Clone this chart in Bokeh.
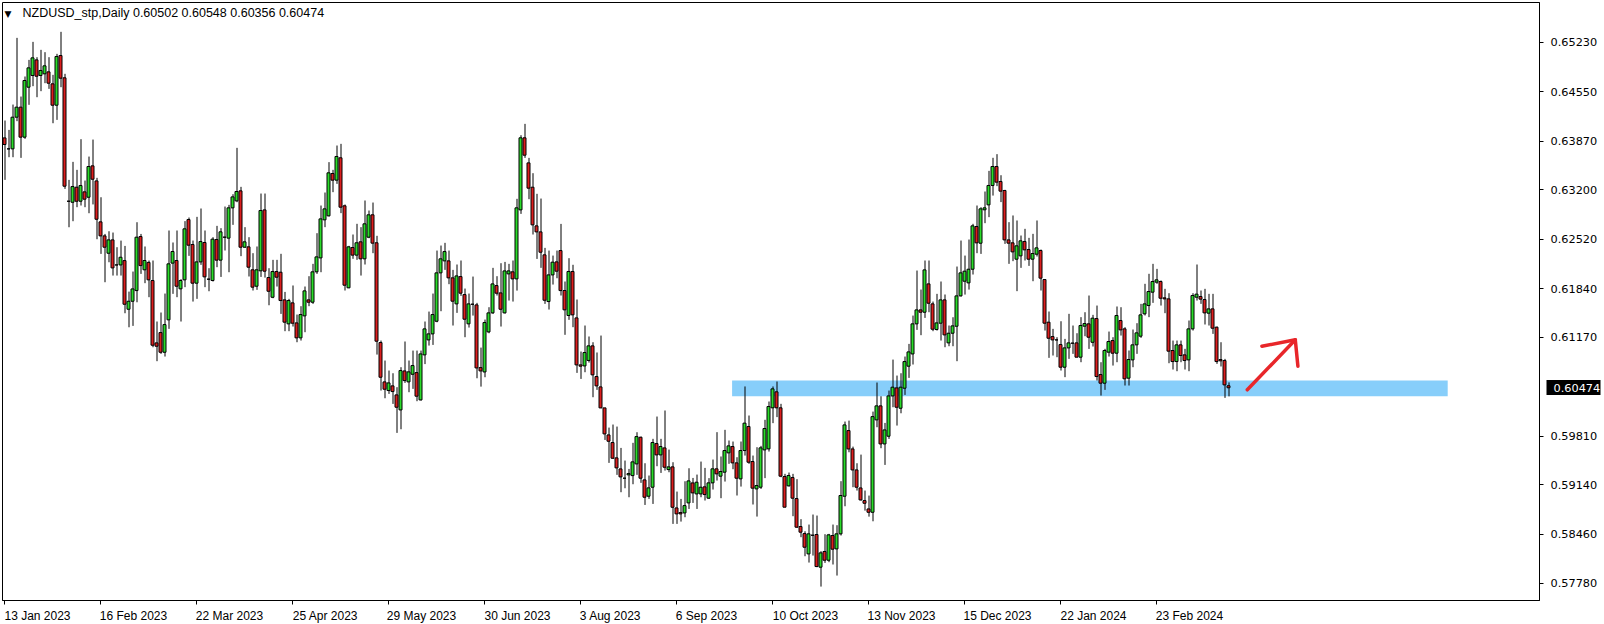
from bokeh.plotting import figure
from bokeh.models import (LinearAxis, FixedTicker, Range1d, Label,
                          ColumnDataSource, PrintfTickFormatter)
from bokeh.embed import file_html
from bokeh.resources import INLINE

# ---------------- data ----------------
symbol = "NZDUSD_stp"
timeframe = "Daily"

date_labels = ["13 Jan 2023", "16 Feb 2023", "22 Mar 2023", "25 Apr 2023",
               "29 May 2023", "30 Jun 2023", "3 Aug 2023", "6 Sep 2023",
               "10 Oct 2023", "13 Nov 2023", "15 Dec 2023", "22 Jan 2024",
               "23 Feb 2024"]
date_label_bars = [0, 24, 48, 72, 96, 120, 144, 168, 192, 216, 240, 264, 288]

price_ticks = [0.65230, 0.64550, 0.63870, 0.63200, 0.62520, 0.61840,
               0.61170, 0.59810, 0.59140, 0.58460, 0.57780]

opens = [
0.63914,0.63763,0.63763,0.64199,0.64337,0.63924,0.64612,0.64773,0.64988,0.64773,
0.64796,0.64823,0.64658,0.64364,0.65048,0.64741,0.63042,0.63028,0.63235,0.63042,
0.63171,0.63097,0.63529,0.63322,0.62758,0.62565,0.62326,0.62510,0.62165,0.62165,
0.62225,0.61555,0.61665,0.61812,0.62556,0.62098,0.62200,0.61951,0.61092,0.61234,
0.60963,0.61409,0.62190,0.62226,0.61836,0.61960,0.62790,0.62446,0.61914,0.62207,
0.62474,0.61969,0.61951,0.62515,0.62231,0.62547,0.62534,0.62951,0.63047,0.63185,
0.62409,0.62414,0.62098,0.61872,0.62084,0.62923,0.61992,0.61720,0.62074,0.62065,
0.61684,0.61354,0.61643,0.61367,0.61161,0.61464,0.61684,0.61652,0.62070,0.62262,
0.62786,0.62841,0.63424,0.63332,0.63640,0.62979,0.61850,0.62405,0.62300,0.62483,
0.62249,0.62547,0.62855,0.62470,0.61097,0.60555,0.60436,0.60500,0.60376,0.60169,
0.60706,0.60555,0.60660,0.60683,0.60307,0.60927,0.61133,0.61216,0.61390,0.62056,
0.62221,0.62221,0.61987,0.61629,0.62005,0.61757,0.61354,0.61624,0.61615,0.60752,
0.60692,0.61243,0.61505,0.61881,0.61780,0.61505,0.62042,0.62070,0.61973,0.62923,
0.63915,0.63570,0.63235,0.62703,0.62620,0.62304,0.61661,0.62028,0.62207,0.62363,
0.61813,0.61469,0.62075,0.61436,0.60789,0.60775,0.60850,0.61051,0.60629,0.60486,
0.60197,0.59825,0.59720,0.59509,0.59357,0.59229,0.59275,0.59265,0.59426,0.59793,
0.59206,0.58981,0.59105,0.59706,0.59550,0.59646,0.59348,0.59385,0.58820,0.58756,
0.58751,0.58889,0.59164,0.59013,0.59013,0.59110,0.58954,0.59165,0.59358,0.59257,
0.59312,0.59578,0.59665,0.59440,0.59220,0.59610,0.59941,0.59459,0.59082,0.59105,
0.59619,0.59633,0.60198,0.60418,0.60198,0.59252,0.59124,0.59238,0.58949,0.58564,
0.58467,0.58187,0.58444,0.58454,0.58004,0.58220,0.58100,0.58440,0.58256,0.58463,
0.58981,0.59885,0.59632,0.59343,0.59095,0.58921,0.58806,0.58760,0.60032,0.60225,
0.59701,0.59807,0.60362,0.60472,0.60192,0.60468,0.60771,0.60940,0.61354,0.61546,
0.61514,0.61904,0.61629,0.61276,0.61363,0.61684,0.61092,0.61225,0.61321,0.61739,
0.61941,0.61918,0.62106,0.62694,0.62464,0.62924,0.62992,0.63259,0.63520,0.63314,
0.63190,0.62510,0.62469,0.62244,0.62290,0.62488,0.62377,0.62244,0.62313,0.62364,
0.61964,0.61377,0.61179,0.61133,0.61069,0.60757,0.61023,0.61088,0.61092,0.60895,
0.61322,0.61354,0.61100,0.61427,0.60656,0.60537,0.60964,0.61124,0.60950,0.61400,
0.61285,0.60606,0.60858,0.61065,0.61184,0.61492,0.61606,0.61790,0.61928,0.61937,
0.61712,0.61698,0.60987,0.60835,0.61065,0.60927,0.60858,0.61285,0.61721,0.61730,
0.61689,0.61501,0.61560,0.61308,0.60863,0.60849,0.60502]

highs = [
0.64153,0.64024,0.64373,0.65291,0.64483,0.64759,0.64988,0.65236,0.65025,0.65126,
0.65094,0.65025,0.64782,0.65071,0.65374,0.64796,0.63336,0.63584,0.63474,0.63896,
0.63327,0.63657,0.63891,0.63364,0.63097,0.62592,0.62629,0.62611,0.62409,0.62500,
0.62427,0.61798,0.62074,0.62753,0.62592,0.62419,0.62226,0.62226,0.61386,0.61510,
0.61771,0.62639,0.62474,0.62639,0.61969,0.62768,0.62818,0.62501,0.62827,0.62942,
0.62639,0.62120,0.62547,0.62703,0.62671,0.62969,0.62992,0.63139,0.63777,0.63240,
0.62685,0.62547,0.62327,0.62419,0.63148,0.63148,0.62120,0.62235,0.62235,0.62318,
0.61794,0.61698,0.61882,0.61482,0.61597,0.61868,0.62010,0.62180,0.62602,0.62983,
0.63162,0.63580,0.63474,0.63809,0.63832,0.62997,0.62428,0.62584,0.62731,0.62685,
0.63052,0.62914,0.63024,0.62566,0.61124,0.60849,0.60711,0.60674,0.60482,0.60757,
0.61111,0.60849,0.60986,0.60986,0.60986,0.61386,0.61523,0.61771,0.62363,0.62432,
0.62469,0.62363,0.62097,0.62171,0.62226,0.61840,0.61771,0.62005,0.61643,0.61027,
0.61413,0.61583,0.62125,0.62010,0.62189,0.62207,0.62180,0.62226,0.63075,0.63951,
0.64107,0.63639,0.63428,0.63144,0.63079,0.62400,0.62363,0.62294,0.62363,0.62730,
0.61937,0.62258,0.62167,0.61689,0.60973,0.61331,0.61180,0.61101,0.60960,0.61193,
0.60197,0.59926,0.59968,0.59940,0.59646,0.59472,0.59357,0.59716,0.59862,0.59802,
0.59435,0.59266,0.59771,0.60078,0.59771,0.60161,0.59623,0.59449,0.59045,0.58944,
0.59187,0.59366,0.59233,0.59279,0.59458,0.59371,0.59230,0.59486,0.59863,0.59528,
0.59895,0.59748,0.59734,0.59518,0.59734,0.60492,0.60092,0.59541,0.59656,0.59674,
0.60033,0.60285,0.60492,0.60560,0.60253,0.59289,0.59307,0.59289,0.59216,0.58665,
0.58499,0.58591,0.58729,0.58715,0.58224,0.58458,0.58463,0.58591,0.58582,0.59188,
0.60009,0.60022,0.59664,0.59435,0.59554,0.59059,0.58990,0.60146,0.60546,0.60357,
0.59990,0.60436,0.60862,0.60642,0.60674,0.60904,0.61078,0.61468,0.62088,0.61826,
0.62226,0.62226,0.61661,0.61767,0.61937,0.61758,0.61331,0.61445,0.62143,0.62501,
0.62294,0.62515,0.62731,0.62983,0.62960,0.63176,0.63460,0.63640,0.63690,0.63400,
0.63199,0.62754,0.62846,0.62777,0.62570,0.62662,0.62538,0.62593,0.62777,0.62377,
0.61964,0.61524,0.61285,0.61170,0.61390,0.61147,0.61492,0.61331,0.61225,0.61446,
0.61514,0.61744,0.61478,0.61606,0.60826,0.61010,0.61248,0.61170,0.61593,0.61583,
0.61308,0.60987,0.61276,0.61363,0.61629,0.61905,0.62043,0.62180,0.62111,0.61951,
0.61836,0.61776,0.61124,0.61124,0.61124,0.61010,0.61400,0.61776,0.62171,0.61813,
0.61836,0.61767,0.61767,0.61317,0.61101,0.60872,0.60548]

lows = [
0.63336,0.63648,0.63648,0.64144,0.63639,0.63901,0.64369,0.64626,0.64474,0.64557,
0.64667,0.64589,0.64116,0.64162,0.64612,0.63212,0.62684,0.62767,0.62960,0.62983,
0.62960,0.62877,0.62998,0.62519,0.62317,0.61927,0.62202,0.62019,0.62019,0.62019,
0.61500,0.61307,0.61326,0.61651,0.62042,0.61914,0.61721,0.61032,0.60840,0.60941,
0.60904,0.61285,0.61767,0.61721,0.61386,0.61859,0.62290,0.61661,0.61698,0.62166,
0.61859,0.61803,0.61937,0.62134,0.62000,0.62364,0.62065,0.62717,0.63029,0.62286,
0.62400,0.62006,0.61813,0.61822,0.62000,0.61991,0.61610,0.61707,0.61868,0.61491,
0.61253,0.61253,0.61317,0.61101,0.61124,0.61239,0.61597,0.61629,0.62042,0.62065,
0.62685,0.62832,0.63167,0.63281,0.62878,0.61813,0.61845,0.62249,0.62235,0.62019,
0.62171,0.62533,0.62327,0.60931,0.60436,0.60330,0.60390,0.60252,0.59853,0.59903,
0.60541,0.60413,0.60459,0.60289,0.60298,0.60800,0.61055,0.61064,0.61376,0.61528,
0.62097,0.61900,0.61331,0.61505,0.61739,0.61170,0.61303,0.61468,0.60605,0.60490,
0.60619,0.61225,0.61491,0.61744,0.61317,0.61496,0.61675,0.61661,0.61812,0.62868,
0.63639,0.63070,0.62584,0.62248,0.62125,0.61629,0.61551,0.61895,0.61982,0.61744,
0.61203,0.61409,0.61308,0.60679,0.60596,0.60688,0.60821,0.60344,0.60445,0.60193,
0.59756,0.59440,0.59495,0.59275,0.59036,0.59091,0.58967,0.59146,0.59275,0.59165,
0.58861,0.58944,0.58875,0.59394,0.59302,0.59334,0.59311,0.58600,0.58600,0.58632,
0.58692,0.58806,0.58889,0.58806,0.58967,0.58922,0.58945,0.59073,0.59197,0.58954,
0.59183,0.59427,0.59353,0.58991,0.59114,0.59541,0.59427,0.58867,0.58701,0.59082,
0.59230,0.59596,0.59987,0.60070,0.59243,0.58830,0.59114,0.58706,0.58545,0.58417,
0.58155,0.58068,0.58164,0.58004,0.57737,0.58063,0.58073,0.58041,0.57889,0.58440,
0.58843,0.59586,0.59105,0.59059,0.58921,0.58783,0.58700,0.58636,0.59931,0.59642,
0.59412,0.59770,0.60206,0.59954,0.60123,0.60376,0.60610,0.60794,0.61271,0.61198,
0.61436,0.61514,0.61253,0.61262,0.61124,0.61032,0.61046,0.61046,0.60840,0.61730,
0.61757,0.61826,0.62033,0.62327,0.62317,0.62740,0.62823,0.63120,0.63250,0.63030,
0.62455,0.62180,0.62217,0.61804,0.62125,0.62226,0.62152,0.61941,0.62281,0.61813,
0.61262,0.60886,0.60918,0.60895,0.60711,0.60620,0.60872,0.60941,0.60895,0.60826,
0.61184,0.61009,0.61042,0.60574,0.60367,0.60445,0.60904,0.60780,0.60826,0.61193,
0.60505,0.60505,0.60757,0.60941,0.61161,0.61469,0.61446,0.61643,0.61905,0.61606,
0.61501,0.60812,0.60725,0.60702,0.60826,0.60725,0.60702,0.61262,0.61675,0.61629,
0.61345,0.61331,0.61216,0.60803,0.60767,0.60335,0.60356]

closes = [
0.63823,0.63763,0.64199,0.64337,0.63924,0.64704,0.64878,0.65016,0.64763,0.64842,
0.64906,0.64667,0.64364,0.65034,0.64736,0.63249,0.63042,0.63244,0.63042,0.63258,
0.63070,0.63520,0.63345,0.62794,0.62565,0.62409,0.62510,0.62124,0.62165,0.62271,
0.61624,0.61665,0.61835,0.62547,0.62156,0.62226,0.61960,0.61060,0.61046,0.60963,
0.61344,0.62180,0.62350,0.61872,0.61951,0.62662,0.62437,0.61914,0.62207,0.62487,
0.62001,0.61969,0.62520,0.62231,0.62621,0.62547,0.62951,0.63102,0.63176,0.62409,
0.62483,0.62134,0.61859,0.62098,0.62914,0.62079,0.61803,0.62074,0.61996,0.61675,
0.61377,0.61675,0.61363,0.61161,0.61482,0.61808,0.61652,0.62070,0.62276,0.62799,
0.62937,0.63433,0.63332,0.63658,0.62960,0.61886,0.62414,0.62300,0.62470,0.62249,
0.62731,0.62855,0.62465,0.61115,0.60619,0.60454,0.60541,0.60422,0.60206,0.60711,
0.60573,0.60693,0.60780,0.60358,0.60940,0.61285,0.61216,0.61482,0.62056,0.62249,
0.62349,0.61987,0.61666,0.62014,0.61776,0.61418,0.61629,0.61624,0.60747,0.60706,
0.61372,0.61505,0.61904,0.61776,0.61555,0.62083,0.62083,0.61973,0.62951,0.63915,
0.63676,0.63222,0.62717,0.62620,0.62340,0.61679,0.62028,0.62203,0.62079,0.61812,
0.61547,0.62075,0.61478,0.60789,0.60771,0.60959,0.61051,0.60652,0.60500,0.60197,
0.59839,0.59738,0.59504,0.59371,0.59247,0.59229,0.59293,0.59454,0.59802,0.59229,
0.58967,0.59096,0.59720,0.59550,0.59665,0.59380,0.59385,0.58829,0.58738,0.58738,
0.58852,0.59192,0.59027,0.59174,0.59105,0.59004,0.59165,0.59358,0.59289,0.59321,
0.59610,0.59674,0.59440,0.59229,0.59610,0.59987,0.59449,0.59092,0.59128,0.59647,
0.59913,0.60216,0.60459,0.60198,0.59257,0.58830,0.59266,0.58954,0.58555,0.58486,
0.58279,0.58463,0.58444,0.58013,0.58201,0.58100,0.58449,0.58252,0.58463,0.58991,
0.59963,0.59632,0.59343,0.59105,0.58930,0.58884,0.58760,0.60077,0.60225,0.59701,
0.59894,0.60362,0.60482,0.60206,0.60482,0.60835,0.60968,0.61354,0.61546,0.61514,
0.62097,0.61638,0.61280,0.61367,0.61684,0.61202,0.61225,0.61326,0.61739,0.62056,
0.62079,0.62106,0.62703,0.62469,0.62937,0.62951,0.63259,0.63520,0.63305,0.63181,
0.62510,0.62465,0.62345,0.62428,0.62497,0.62373,0.62244,0.62322,0.62400,0.61983,
0.61363,0.61156,0.61133,0.61133,0.60757,0.61023,0.61092,0.61088,0.60895,0.61331,
0.61358,0.61170,0.61432,0.60629,0.60537,0.60987,0.61111,0.60950,0.61469,0.61271,
0.60597,0.60863,0.61065,0.61230,0.61478,0.61629,0.61799,0.61937,0.61960,0.61707,
0.61698,0.60978,0.60835,0.61065,0.60918,0.60849,0.61285,0.61744,0.61763,0.61694,
0.61505,0.61560,0.61294,0.60835,0.60845,0.60514,0.60474]

# drawn annotations (bar index / price)
zone_bars = [181.9, 360.8]
zone_prices = [0.60358, 0.60574]
arrow_x = [[310.7, 322.7], [314.35, 322.7, 323.35]]
arrow_y = [[0.60446, 0.61134], [0.61046, 0.61134, 0.60771]]

# ---------------- layout ----------------
PX_PER_BAR = 4
PX_PER_PRICE = 7264.0
FRAME_W, FRAME_H = 1537, 598
TOP_GAP_PX = 39.8          # frame top above first price tick
CHAR_PX = 6.0              # approx width of a date-label character

BULL = "#2ADB2A"
BEAR = "#DC1E1E"

PRICE_FONT = "DejaVu Sans"
PRICE_FONT_PX = 11.3
PRICE_LABEL_W = 4.134 * PRICE_FONT_PX     # "0.00000" in DejaVu Sans (em widths)
TICK_OUT, STANDOFF = 4, 7
AXIS_W = TICK_OUT + STANDOFF + PRICE_LABEL_W   # width taken by the price axis
BOX_GAP = 4                                    # gap between frame and price box

x_start = -0.5
x_end = x_start + FRAME_W / PX_PER_BAR
y_top = price_ticks[0] + TOP_GAP_PX / PX_PER_PRICE
y_bottom = y_top - FRAME_H / PX_PER_PRICE

p = figure(frame_width=FRAME_W, frame_height=FRAME_H,
           x_range=Range1d(x_start, x_end), y_range=Range1d(y_bottom, y_top),
           toolbar_location=None, output_backend="svg",
           x_axis_location=None, y_axis_location=None,
           min_border_left=2, min_border_top=2,
           min_border_right=65, min_border_bottom=24,
           background_fill_color="white", border_fill_color="white",
           outline_line_color="black", outline_line_width=1)
p.grid.visible = False

# right price axis
yaxis = LinearAxis(ticker=FixedTicker(ticks=price_ticks),
                   formatter=PrintfTickFormatter(format="%.5f"))
yaxis.axis_line_color = "black"
yaxis.major_tick_line_color = "black"
yaxis.major_tick_in = 0
yaxis.major_tick_out = TICK_OUT
yaxis.minor_tick_in = 0
yaxis.minor_tick_out = 0
yaxis.major_label_standoff = STANDOFF
yaxis.major_label_text_font = PRICE_FONT
yaxis.major_label_text_font_size = "{}px".format(PRICE_FONT_PX)
yaxis.major_label_text_color = "black"
p.add_layout(yaxis, "right")

# current price marker: a second one-tick axis stacked after the price axis;
# its tick reaches back toward the frame as a thick black bar and its
# white label is pulled back on top of that bar
cur_axis = LinearAxis(ticker=FixedTicker(ticks=[closes[-1]]),
                      formatter=PrintfTickFormatter(format="%.5f"))
cur_axis.axis_line_color = None
cur_axis.minor_tick_in = 0
cur_axis.minor_tick_out = 0
cur_axis.major_tick_in = int(round(AXIS_W - BOX_GAP))
cur_axis.major_tick_out = 0
cur_axis.major_tick_line_width = 15
cur_axis.major_tick_line_color = "black"
cur_axis.major_label_standoff = -int(round(AXIS_W - TICK_OUT - STANDOFF))
cur_axis.major_label_text_font = PRICE_FONT
cur_axis.major_label_text_font_size = "{}px".format(PRICE_FONT_PX)
cur_axis.major_label_text_color = "white"
p.add_layout(cur_axis, "right")

# bottom date axis: labels start at their date tick (left aligned)
label_pos = [b + len(t) * CHAR_PX / 2 / PX_PER_BAR
             for b, t in zip(date_label_bars, date_labels)]
xaxis = LinearAxis(ticker=FixedTicker(ticks=label_pos, minor_ticks=date_label_bars),
                   major_label_overrides={pos: t for pos, t in zip(label_pos, date_labels)})
xaxis.axis_line_color = "black"
xaxis.major_tick_in = 0
xaxis.major_tick_out = 0
xaxis.minor_tick_in = 0
xaxis.minor_tick_out = 4
xaxis.minor_tick_line_color = "black"
xaxis.major_label_standoff = 4
xaxis.major_label_text_font = "Liberation Sans"
xaxis.major_label_text_font_size = "12px"
xaxis.major_label_text_color = "black"
p.add_layout(xaxis, "below")

# support zone
p.quad(left=[zone_bars[0]], right=[zone_bars[1]],
       bottom=[zone_prices[0]], top=[zone_prices[1]],
       fill_color="#87CEFA", line_color=None)

# candles
idx = list(range(len(closes)))
wick_shift = 0.5 / PX_PER_BAR     # put the 1px wick on a whole pixel
src = ColumnDataSource(dict(
    x=idx, xw=[i + wick_shift for i in idx], high=highs, low=lows,
    top=[max(o, c) for o, c in zip(opens, closes)],
    bottom=[min(o, c) for o, c in zip(opens, closes)],
    color=[BULL if c >= o else BEAR for o, c in zip(opens, closes)],
))
p.segment(x0="xw", y0="low", x1="xw", y1="high", source=src,
          line_color="black", line_width=1)
p.vbar(x="x", width=3 / PX_PER_BAR, top="top", bottom="bottom", source=src,
       fill_color="color", line_color="black", line_width=1)

# hand-drawn arrow
p.multi_line(xs=arrow_x, ys=arrow_y, line_color="#E8262A", line_width=3.5,
             line_cap="round", line_join="round")

# header text
header = "{},{}  {:.5f} {:.5f} {:.5f} {:.5f}".format(
    symbol, timeframe, opens[-1], highs[-1], lows[-1], closes[-1])
p.add_layout(Label(x=x_start, y=y_top, x_offset=2, y_offset=-6, text="\u25bc",
                   text_baseline="top", text_align="left",
                   text_font="DejaVu Sans", text_font_size="9px",
                   text_color="black"))
p.add_layout(Label(x=x_start, y=y_top, x_offset=20, y_offset=-3, text=header,
                   text_baseline="top", text_align="left",
                   text_font="Liberation Sans", text_font_size="12.5px",
                   text_color="black"))

open("out.html", "w").write(file_html(p, INLINE))
